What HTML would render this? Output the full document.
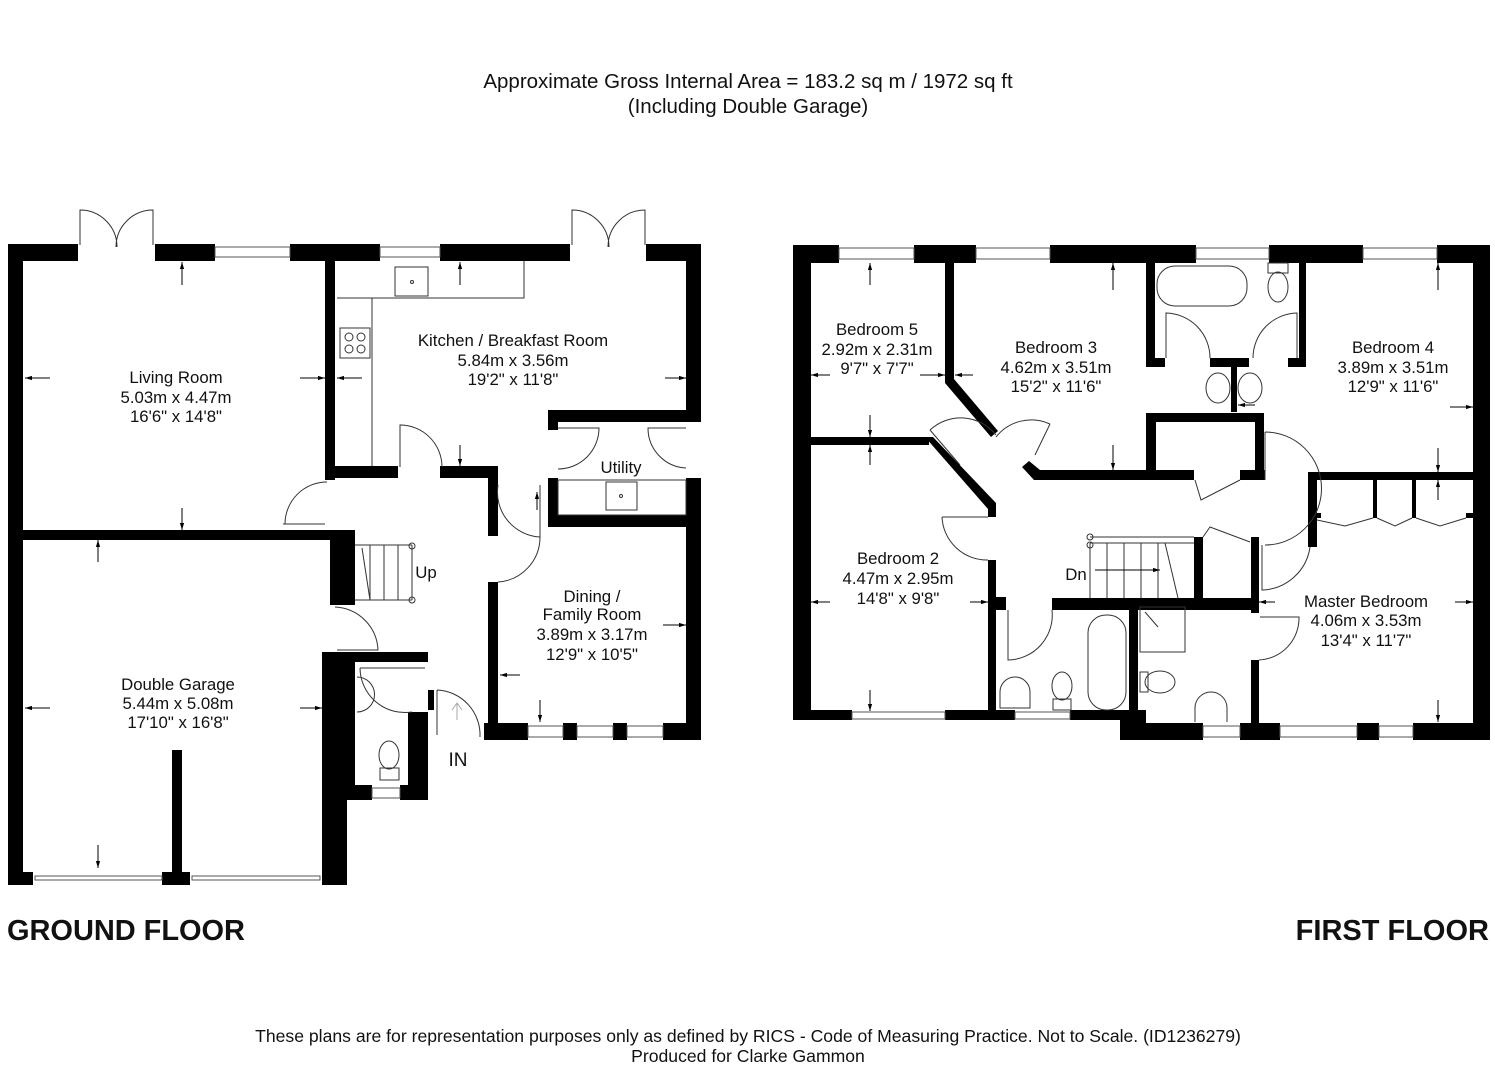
<!DOCTYPE html>
<html><head><meta charset="utf-8"><style>
html,body{margin:0;padding:0;background:#fff}
svg{display:block}
text{font-family:"Liberation Sans",Arial,sans-serif;fill:#111}
.w{fill:#000}
.win{fill:#fff;stroke:#555;stroke-width:1}
.th{fill:none;stroke:#333;stroke-width:1}
.ar{stroke:#000;stroke-width:1;fill:none}
</style></head><body>
<svg width="1495" height="1080" viewBox="0 0 1495 1080" xmlns="http://www.w3.org/2000/svg">
<defs><marker id="ah" viewBox="0 0 10 10" refX="10" refY="5" markerWidth="7" markerHeight="7" orient="auto"><path d="M0,2 L10,5 L0,8z" fill="#000"/></marker></defs>
<text x="748" y="88" font-size="20.5" text-anchor="middle">Approximate Gross Internal Area = 183.2 sq m / 1972 sq ft</text>
<text x="748" y="113" font-size="20.5" text-anchor="middle">(Including Double Garage)</text>

<!-- ===== GROUND FLOOR ===== -->
<g class="w">
<rect x="8" y="244" width="15" height="641"/>
<rect x="8" y="244" width="70" height="17"/>
<rect x="155" y="244" width="60" height="17"/>
<rect x="290" y="244" width="90" height="17"/>
<rect x="440" y="244" width="130" height="17"/>
<rect x="646" y="244" width="55" height="17"/>
<rect x="686" y="244" width="15" height="178"/>
<rect x="548" y="410" width="153" height="12"/>
<rect x="548" y="410" width="10" height="20"/>
<rect x="325" y="261" width="10" height="219"/>
<rect x="330" y="466" width="68" height="12"/>
<rect x="440" y="466" width="58" height="12"/>
<rect x="488" y="466" width="10" height="70"/>
<rect x="548" y="478" width="10" height="48"/>
<rect x="548" y="515" width="153" height="12"/>
<rect x="686" y="478" width="15" height="262"/>
<rect x="488" y="582" width="10" height="158"/>
<rect x="484" y="723" width="44" height="17"/>
<rect x="563" y="723" width="14" height="17"/>
<rect x="613" y="723" width="14" height="17"/>
<rect x="663" y="723" width="38" height="17"/>
<rect x="8" y="530" width="322" height="10"/>
<rect x="330" y="530" width="25" height="75"/>
<rect x="322" y="652" width="25" height="233"/>
<rect x="330" y="652" width="25" height="148"/>
<rect x="330" y="652" width="98" height="10"/>
<rect x="408" y="712" width="20" height="88"/>
<rect x="428" y="690" width="6" height="20"/>
<rect x="345" y="785" width="27" height="15"/>
<rect x="400" y="785" width="28" height="15"/>
<rect x="8" y="872" width="25" height="13"/>
<rect x="162" y="872" width="28" height="13"/>
<rect x="172" y="750" width="10" height="130"/>
</g>
<g class="win">
<rect x="215" y="247" width="75" height="10"/>
<rect x="380" y="247" width="60" height="10"/>
<rect x="528" y="726" width="35" height="11"/>
<rect x="577" y="726" width="36" height="11"/>
<rect x="627" y="726" width="36" height="11"/>
<rect x="372" y="788" width="28" height="10"/>
<rect x="35" y="876" width="127" height="4"/>
<rect x="192" y="876" width="128" height="4"/>
</g>
<g class="th">
<path d="M80,245 V210 A37,37 0 0 1 117,247"/><path d="M153,245 V210 A37,37 0 0 0 116,247"/>
<path d="M572,245 V210 A37,37 0 0 1 609,247"/><path d="M645,245 V210 A37,37 0 0 0 608,247"/>
<path d="M372,466 V298 H524 V261"/><path d="M337,298 H372"/>
<rect x="395" y="267" width="33" height="29"/><circle cx="412" cy="282" r="1.5"/>
<rect x="340" y="328" width="30" height="30"/>
<circle cx="349" cy="337" r="4"/><circle cx="361" cy="337" r="4"/><circle cx="349" cy="349" r="4"/><circle cx="361" cy="349" r="4"/>
<path d="M400,467 V425 A42,42 0 0 1 442,467"/>
<path d="M285,524 A42,42 0 0 1 327,482 M283,524 H325"/>
<path d="M558,428 H599 A41,41 0 0 1 558,469"/>
<path d="M686,428 H648 A40,40 0 0 0 686,468"/>
<path d="M498,485 A45,45 0 0 0 540,537 V485"/>
<path d="M498,582 A45,45 0 0 0 540,537"/>
<path d="M335,607 A45,45 0 0 1 378,650 H337"/>
<path d="M360,668 H425 M360,668 A45,45 0 0 0 412,712"/>
<path d="M437,690 V735 M437,690 A45,45 0 0 1 480,737"/>
<rect x="558" y="480" width="128" height="35"/>
<rect x="606" y="482" width="31" height="28"/><circle cx="621" cy="496" r="1.5"/>
<path d="M355,545 H412 M355,600 H412 M370,545 V600 M384,545 V600 M398,545 V600 M412,545 V600 M362,548 L370,600"/>
<circle cx="412" cy="546" r="3"/><circle cx="412" cy="600" r="3"/>
<path d="M357,677 A17,17 0 0 1 357,712"/>
<ellipse cx="389" cy="755" rx="10" ry="14"/><rect x="380" y="768" width="19" height="12"/>
</g>
<path d="M457,720 V703 M452,710 L457,703 L462,710" fill="none" stroke="#aaa"/>
<g class="ar" marker-end="url(#ah)">
<path d="M50,378 H25"/><path d="M300,378 H325"/>
<path d="M182,285 V262"/><path d="M182,508 V530"/>
<path d="M460,285 V262"/><path d="M460,445 V466"/>
<path d="M362,378 H337"/><path d="M665,378 H686"/>
<path d="M50,708 H25"/><path d="M300,708 H322"/>
<path d="M98,562 V540"/><path d="M98,845 V868"/>
<path d="M520,675 H500"/><path d="M663,625 H686"/>
<path d="M540,700 V722"/><path d="M537,510 V492"/>
</g>
<g font-size="16.8" text-anchor="middle">
<text x="176" y="383">Living Room</text><text x="176" y="403">5.03m x 4.47m</text><text x="176" y="422">16'6" x 14'8"</text>
<text x="513" y="346">Kitchen / Breakfast Room</text><text x="513" y="366">5.84m x 3.56m</text><text x="513" y="385">19'2" x 11'8"</text>
<text x="621" y="473">Utility</text>
<text x="426" y="578">Up</text>
<text x="592" y="602">Dining /</text><text x="592" y="620">Family Room</text><text x="592" y="640">3.89m x 3.17m</text><text x="592" y="660">12'9" x 10'5"</text>
<text x="178" y="690">Double Garage</text><text x="178" y="709">5.44m x 5.08m</text><text x="178" y="728">17'10" x 16'8"</text>
<text x="458" y="766" font-size="19">IN</text>
</g>

<!-- ===== FIRST FLOOR ===== -->
<g class="w">
<rect x="793" y="245" width="46" height="18"/>
<rect x="914" y="245" width="62" height="18"/>
<rect x="1050" y="245" width="146" height="18"/>
<rect x="1269" y="245" width="94" height="18"/>
<rect x="1437" y="245" width="53" height="18"/>
<rect x="793" y="245" width="18" height="475"/>
<rect x="1473" y="245" width="17" height="495"/>
<rect x="793" y="710" width="59" height="10"/>
<rect x="945" y="710" width="70" height="10"/>
<rect x="1070" y="710" width="76" height="10"/>
<rect x="1120" y="712" width="26" height="28"/>
<rect x="1120" y="723" width="83" height="17"/>
<rect x="1240" y="723" width="40" height="17"/>
<rect x="1357" y="723" width="22" height="17"/>
<rect x="1413" y="723" width="77" height="17"/>
<rect x="945" y="263" width="9" height="120"/>
<polygon points="945,383 954,379 998,431 991,437"/>
<rect x="808" y="437" width="121" height="8"/>
<polygon points="925,437 933,437 996,503 988,509"/>
<rect x="988" y="503" width="8" height="14"/>
<rect x="988" y="560" width="8" height="160"/>
<rect x="988" y="597" width="18" height="13"/>
<rect x="1052" y="598" width="207" height="12"/>
<rect x="1194" y="537" width="9" height="61"/>
<rect x="1251" y="537" width="8" height="76"/>
<rect x="1251" y="660" width="8" height="63"/>
<rect x="1129" y="610" width="9" height="102"/>
<polygon points="1022,467 1029,461 1040,470 1194,470 1194,480 1034,480"/>
<rect x="1240" y="470" width="25" height="10"/>
<rect x="1146" y="413" width="10" height="67"/>
<rect x="1146" y="413" width="118" height="9"/>
<rect x="1255" y="413" width="9" height="67"/>
<rect x="1146" y="263" width="9" height="104"/>
<rect x="1146" y="358" width="19" height="9"/>
<rect x="1210" y="358" width="39" height="9"/>
<rect x="1299" y="263" width="7" height="104"/>
<rect x="1288" y="358" width="18" height="9"/>
<rect x="1231" y="367" width="6" height="45"/>
<rect x="1308" y="472" width="182" height="8"/>
<rect x="1308" y="480" width="9" height="67"/>
<rect x="1373" y="480" width="4" height="38"/>
<rect x="1412" y="480" width="4" height="38"/>
<rect x="1316" y="513" width="5" height="5"/><rect x="1466" y="513" width="7" height="5"/>
</g>
<g class="win">
<rect x="839" y="248" width="75" height="11"/>
<rect x="976" y="248" width="74" height="11"/>
<rect x="1196" y="248" width="73" height="11"/>
<rect x="1363" y="248" width="74" height="11"/>
<rect x="852" y="712" width="93" height="7"/>
<rect x="1015" y="712" width="55" height="7"/>
<rect x="1203" y="726" width="37" height="11"/>
<rect x="1280" y="726" width="77" height="11"/>
<rect x="1379" y="726" width="34" height="11"/>
</g>
<g class="th">
<rect x="1157" y="266" width="90" height="40" rx="18"/>
<ellipse cx="1278" cy="287" rx="10" ry="15"/><rect x="1268" y="263" width="20" height="10"/>
<path d="M1166,358 V313 A45,45 0 0 1 1210,358"/><path d="M1297,358 V313 A45,45 0 0 0 1253,358"/>
<ellipse cx="1218" cy="388" rx="12" ry="15"/><ellipse cx="1250" cy="388" rx="12" ry="15"/>
<path d="M930,430 L960,465"/><path d="M930,430 A45,45 0 0 1 996,435"/>
<path d="M1050,424 L1035,455"/><path d="M1050,424 A45,45 0 0 0 996,437"/>
<path d="M942,517 H988 M942,517 A45,45 0 0 0 988,560"/>
<path d="M1008,610 V660 A45,45 0 0 0 1052,610"/>
<path d="M1195,480 L1201,500 L1240,480"/>
<path d="M1265,432 V480 M1265,432 A52,52 0 0 1 1265,545"/>
<path d="M1262,545 V590 A50,50 0 0 0 1310,547"/>
<path d="M1203,537 L1210,527 L1250,542"/>
<path d="M1260,617 H1299 A42,42 0 0 1 1259,660"/>
<path d="M1317,520 L1345,526 L1373,518 M1377,518 L1395,526 L1412,518 M1416,518 L1440,526 L1466,518"/>
<path d="M1090,537 H1194 M1090,543 H1194 M1090,543 V598 M1107,543 V598 M1124,543 V598 M1141,543 V598 M1158,543 V598 M1165,543 L1178,598"/>
<circle cx="1090" cy="537" r="3"/><circle cx="1090" cy="545" r="3"/>
<path d="M1095,570 H1160" marker-end="url(#ah)" stroke="#000"/>
<rect x="1088" y="615" width="38" height="95" rx="18"/>
<ellipse cx="1062" cy="686" rx="10" ry="14"/><rect x="1053" y="699" width="18" height="11"/>
<path d="M1000,708 V692 A15,15 0 0 1 1030,692 V708 Z"/>
<rect x="1140" y="607" width="45" height="45"/><path d="M1145,612 L1158,627"/>
<ellipse cx="1160" cy="682" rx="15" ry="11"/><rect x="1140" y="672" width="8" height="20"/>
<path d="M1195,722 V708 A16,16 0 0 1 1227,708 V722"/>
</g>
<g class="ar" marker-end="url(#ah)">
<path d="M870,285 V263"/><path d="M870,415 V437"/>
<path d="M830,375 H811"/><path d="M920,375 H945"/>
<path d="M973,375 H955"/>
<path d="M1113,290 V263"/><path d="M1113,445 V470"/>
<path d="M1438,290 V263"/><path d="M1438,448 V472"/>
<path d="M1450,407 H1473"/><path d="M1255,405 H1238"/>
<path d="M870,465 V445"/><path d="M870,690 V711"/>
<path d="M830,602 H811"/><path d="M970,602 H988"/>
<path d="M1275,602 H1259"/><path d="M1455,602 H1473"/>
<path d="M1438,500 V480"/><path d="M1438,700 V722"/>
</g>
<g font-size="16.8" text-anchor="middle">
<text x="877" y="335">Bedroom 5</text><text x="877" y="355">2.92m x 2.31m</text><text x="877" y="374">9'7" x 7'7"</text>
<text x="1056" y="353">Bedroom 3</text><text x="1056" y="373">4.62m x 3.51m</text><text x="1056" y="392">15'2" x 11'6"</text>
<text x="1393" y="353">Bedroom 4</text><text x="1393" y="373">3.89m x 3.51m</text><text x="1393" y="392">12'9" x 11'6"</text>
<text x="898" y="564">Bedroom 2</text><text x="898" y="584">4.47m x 2.95m</text><text x="898" y="604">14'8" x 9'8"</text>
<text x="1366" y="607">Master Bedroom</text><text x="1366" y="626">4.06m x 3.53m</text><text x="1366" y="646">13'4" x 11'7"</text>
<text x="1076" y="580">Dn</text>
</g>

<text x="7" y="940" font-size="29" font-weight="bold" textLength="238">GROUND FLOOR</text>
<text x="1489" y="940" font-size="29" font-weight="bold" text-anchor="end">FIRST FLOOR</text>
<text x="748" y="1042" font-size="17.6" text-anchor="middle">These plans are for representation purposes only as defined by RICS - Code of Measuring Practice. Not to Scale. (ID1236279)</text>
<text x="748" y="1062" font-size="17.6" text-anchor="middle">Produced for Clarke Gammon</text>
</svg>
</body></html>
